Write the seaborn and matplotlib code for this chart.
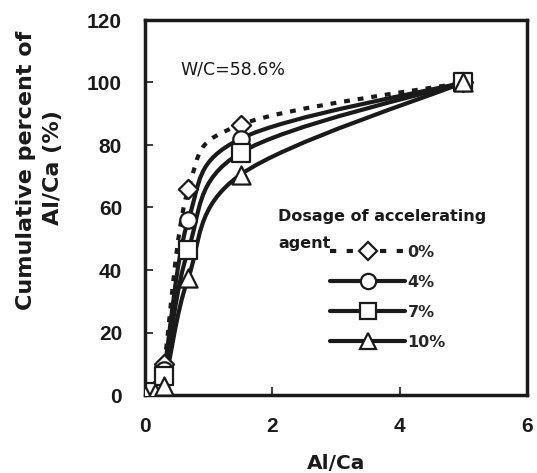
import numpy as np
import pandas as pd
import seaborn as sns
import matplotlib
matplotlib.use("Agg")
import matplotlib.pyplot as plt
from matplotlib.path import Path
from matplotlib.patches import PathPatch
from matplotlib.lines import Line2D

# ---- data ----
al_ca = [0.0, 0.15, 0.3, 0.68, 1.5, 5.0]
dose_0 = [0.0, 1.5, 10.0, 66.0, 86.5, 100.0]
dose_4 = [0.0, 1.2, 8.0, 56.0, 82.0, 100.0]
dose_7 = [0.0, 1.0, 6.0, 46.5, 77.5, 100.0]
dose_10 = [0.0, 0.5, 3.0, 37.5, 70.5, 100.0]
series_labels = ["0%", "4%", "7%", "10%"]
x_ticks = [0, 2, 4, 6]
y_ticks = [0, 20, 40, 60, 80, 100, 120]

sns.set_theme(style="white")
plt.rcParams["font.family"] = ["Liberation Sans", "DejaVu Sans"]

INK = "#1a1a1a"
fig = plt.figure(figsize=(5.37, 4.73), dpi=100)
ax = fig.add_axes([145/537, 1-395/473, (527-145)/537, (395-20)/473])

values = [dose_0, dose_4, dose_7, dose_10]
markers = ["D", "o", "s", "^"]
msizes = [95, 140, 160, 170]
styles = [(0, (1.4, 1.9)), "-", "-", "-"]

def smooth_path(xs, ys):
    pts = np.column_stack([xs, ys]).astype(float)
    n = len(pts)
    verts = [pts[0]]
    codes = [Path.MOVETO]
    for i in range(n - 1):
        p0 = pts[i - 1] if i > 0 else pts[i]
        p1 = pts[i]
        p2 = pts[i + 1]
        p3 = pts[i + 2] if i + 2 < n else pts[i + 1]
        c1 = p1 + (p2 - p0) / 6.0
        c2 = p2 - (p3 - p1) / 6.0
        verts += [c1, c2, p2]
        codes += [Path.CURVE4] * 3
    return Path(verts, codes)

for vals, lab, mk, ms, ls in zip(values, series_labels, markers, msizes, styles):
    patch = PathPatch(smooth_path(al_ca, vals), facecolor="none",
                      edgecolor=INK, lw=3.0, linestyle=ls,
                      capstyle="butt", zorder=2)
    ax.add_patch(patch)
    df = pd.DataFrame({"x": al_ca, "y": vals})
    sns.scatterplot(data=df, x="x", y="y", marker=mk, s=ms, color="white",
                    edgecolor=INK, linewidth=1.6, ax=ax, zorder=3,
                    legend=False)

ax.set_xlim(0, 6)
ax.set_ylim(0, 120)
ax.set_xticks(x_ticks)
ax.set_yticks(y_ticks)
ax.set_xticklabels([str(t) for t in x_ticks], fontsize=15, fontweight="bold")
ax.set_yticklabels([str(t) for t in y_ticks], fontsize=15, fontweight="bold")
ax.tick_params(direction="in", length=6, width=1.2, colors=INK,
               bottom=True, left=True)
ax.tick_params(axis="y", pad=16.5)
ax.tick_params(axis="x", pad=16)
ax.set_xlabel("")
ax.set_ylabel("")
for sp in ax.spines.values():
    sp.set_color(INK)
    sp.set_linewidth(2.5)

BOLD = dict(family=["DejaVu Sans"], fontweight="bold", color=INK)
fig.text(336/537, 1-469/473, "Al/Ca", ha="center", va="baseline",
         fontsize=14.5, **BOLD)
fig.text(26/537, 1-170/473, "Cumulative percent of", ha="center", va="center",
         rotation=90, fontsize=16, **BOLD)
fig.text(53/537, 1-168/473, "Al/Ca (%)", ha="center", va="center",
         rotation=90, fontsize=16, **BOLD)

fig.text(180/537, 1-70/473, "W/C=58.6%", ha="left", va="center",
         fontsize=12.5, family=["DejaVu Sans"], color=INK)
fig.text(278/537, 1-216/473, "Dosage of accelerating", ha="left", va="center",
         fontsize=11.5, **BOLD)
fig.text(278/537, 1-243/473, "agent", ha="left", va="center",
         fontsize=11.5, **BOLD)

handles = []
for lab, mk, ls in zip(series_labels, markers, styles):
    lsl = (0, (1.5, 2.5)) if lab == "0%" else "-"
    handles.append(Line2D([0], [0], color=INK, lw=3.0, linestyle=lsl,
                          marker=mk, markersize=9 if mk == "D" else 11,
                          markerfacecolor="white", markeredgecolor=INK,
                          markeredgewidth=1.6))
leg = fig.legend(handles=handles, labels=series_labels, loc="upper left",
                 bbox_to_anchor=(330/537, 1-245/473), frameon=False,
                 handlelength=4.7, handletextpad=0.15, labelspacing=0.94,
                 borderpad=0, borderaxespad=0,
                 prop={"size": 11.5, "weight": "bold", "family": "DejaVu Sans"})

fig.savefig("out.png", dpi=100)
